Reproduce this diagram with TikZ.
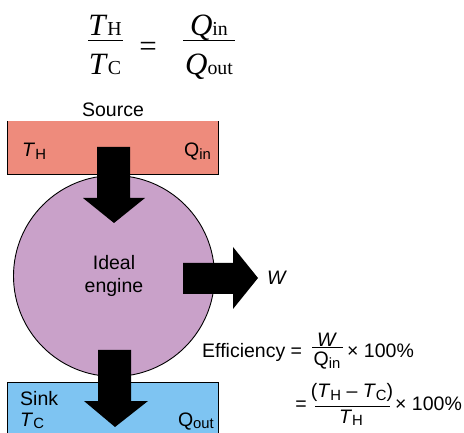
\documentclass[tikz,border=0pt]{standalone}
\usepackage{fontspec}
\usepackage{graphicx}
\setmainfont{Liberation Sans}
\newfontfamily\eqfont{Liberation Serif}
\usetikzlibrary{positioning}

\definecolor{sumber}{HTML}{EE8B7C}
\definecolor{mesin}{HTML}{C9A1C9}
\definecolor{buang}{HTML}{7EC4F2}

% indeks bawah: agak besar (sans) dan tanpa turun (serif)
\newcommand{\bawah}[1]{\raisebox{-0.15em}{\scalebox{0.76}{#1}}}
\newcommand{\kecil}[1]{\scalebox{0.64}{#1}}

\begin{document}
\begin{tikzpicture}[x=1pt, y=-1pt, font=\fontsize{19.5}{22}\selectfont,
    teks/.style={anchor=base, inner sep=0pt},
    persamaan/.style={teks, font=\eqfont\fontsize{31}{31}\selectfont},
    garis/.style={line width=1pt}]

  \useasboundingbox (0,0) rectangle (464,433);

  % Persamaan suhu dan kalor (huruf serif)
  \node[persamaan] (TH) at (105,36) {\textit{T}\kecil{H}};
  \node[persamaan] (TC) at (105,75) {\textit{T}\kecil{C}};
  \node[persamaan] (sama) at (148,57) {=};
  \node[persamaan] (Qin) at (209,36) {\textit{Q}\kecil{in}};
  \node[persamaan] (Qout) at (209,75) {\textit{Q}\kecil{out}};
  \draw[garis] (88,41) -- (123,41);
  \draw[garis] (183,41) -- (235,41);

  % Mesin ideal (lingkaran ungu)
  \node[draw, circle, line width=0.9pt, fill=mesin, minimum size=201pt, inner sep=0pt, align=center] (engine) at (114,276) {Ideal\\[1pt]engine};

  % Reservoir panas dan dingin
  \node[fill=sumber, minimum width=211pt, minimum height=53pt, inner sep=0pt, anchor=north west] (source) at (7,121) {};
  \draw[line width=0.9pt] (source.north west) |- (source.south east) -- (source.north east);
  \node[fill=buang, minimum width=211pt, minimum height=51pt, inner sep=0pt, anchor=north west] (sink) at (7,382) {};
  \draw[line width=0.9pt] (sink.south west) |- (sink.north east) -- (sink.south east);

  % Panah aliran kalor dan kerja
  \fill (97,147) -- (130,147) -- (130,198) -- (145,198) -- (114,223) -- (83,198) -- (97,198) -- cycle;
  \fill (183,263) -- (233,263) -- (233,247) -- (258,278) -- (233,309) -- (233,294) -- (183,294) -- cycle;
  \fill (98,350) -- (131,350) -- (131,401) -- (148,401) -- (115,427) -- (84,401) -- (98,401) -- cycle;

  % Label pada reservoir
  \node[teks] (labelsumber) at (113,117) {Source};
  \node[teks, anchor=base west] (suhuH) at (22,157) {\textit{T}\bawah{H}};
  \node[teks, anchor=base east] (kalorIn) at (211,157) {Q\bawah{in}};
  \node[teks, anchor=base west] (labelsink) at (20,405) {Sink};
  \node[teks, anchor=base west] (suhuC) at (20,426) {\textit{T}\bawah{C}};
  \node[teks, anchor=base east] (kalorOut) at (214,426) {Q\bawah{out}};
  \node[teks, anchor=base west] (kerja) at (267,285) {\textit{W}};

  % Rumus efisiensi
  \node[teks, anchor=base west] (efisiensi) at (202,357) {Efficiency =};
  \node[teks] (Wpembilang) at (327,346) {\textit{W}};
  \node[teks] (Qpenyebut) at (327,366) {Q\bawah{in}};
  \draw[garis] (312,348) -- (343,348);
  \node[teks, anchor=base west] (persen1) at (347,357) {× 100\%};
  \node[teks] (sama2) at (301,410) {=};
  \node[teks] (selisih) at (352,398) {(\textit{T}\bawah{H} – \textit{T}\bawah{C})};
  \node[teks] (THpenyebut) at (351,423) {\textit{T}\bawah{H}};
  \draw[garis] (315,406) -- (390,406);
  \node[teks, anchor=base west] (persen2) at (395,410) {× 100\%};

\end{tikzpicture}
\end{document}
